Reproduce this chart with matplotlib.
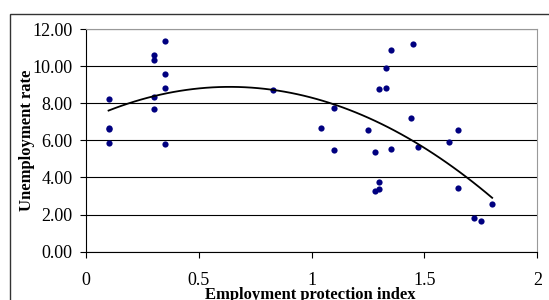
import numpy as np
import matplotlib
matplotlib.use("Agg")
import matplotlib.pyplot as plt
from matplotlib.patches import Rectangle

# --- Data ---
epi = [0.10, 0.10, 0.10, 0.10,
       0.30, 0.30, 0.30, 0.30,
       0.35, 0.35, 0.35, 0.35,
       0.83, 1.04, 1.10, 1.10,
       1.25, 1.28, 1.28, 1.30, 1.30, 1.30, 1.33, 1.33, 1.35, 1.35,
       1.44, 1.45, 1.47, 1.61, 1.65, 1.65, 1.72, 1.75, 1.80]
unemp = [8.25, 6.69, 6.63, 5.88,
         10.62, 10.35, 8.34, 7.68,
         11.36, 9.58, 8.82, 5.82,
         8.72, 6.69, 7.73, 5.48,
         6.58, 5.36, 3.29, 8.77, 3.76, 3.40, 9.92, 8.82, 10.89, 5.54,
         7.21, 11.18, 5.64, 5.90, 6.58, 3.42, 1.80, 1.64, 2.55]

x_ticks = [0, 0.5, 1, 1.5, 2]
x_ticklabels = ["0", "0.5", "1", "1.5", "2"]
y_ticks = [0, 2, 4, 6, 8, 10, 12]
y_ticklabels = ["0.00", "2.00", "4.00", "6.00", "8.00", "10.00", "12.00"]

# quadratic trend line (as drawn in the reference)
trend_coef = np.polyfit(epi, unemp, 2)
trend_x = np.linspace(min(epi), max(epi), 60)
trend_y = np.polyval(trend_coef, trend_x)

plt.rcParams["font.family"] = ["Liberation Serif", "DejaVu Serif"]

fig = plt.figure(figsize=(5.49, 3.0), dpi=100)
# outer chart frame (cropped at right/bottom)
fig.patches.append(Rectangle((10 / 549, -0.2), 1.2, 0.2 + (1 - 14 / 300),
                             transform=fig.transFigure, fill=False,
                             edgecolor="#333333", linewidth=1.0))

ax = fig.add_axes([86 / 549, 48.3 / 300, (537.3 - 86) / 549, (251.7 - 29) / 300])

ax.scatter(epi, unemp, s=20, color="#000080", zorder=3, linewidths=0)
ax.plot(trend_x, trend_y, color="black", linewidth=1.3, zorder=4)

ax.set_xlim(0, 2)
ax.set_ylim(0, 12)
ax.set_xticks(x_ticks)
ax.set_xticklabels(x_ticklabels)
ax.set_yticks(y_ticks)
ax.set_yticklabels(y_ticklabels)

ax.yaxis.grid(True, color="black", linewidth=0.8)
ax.set_axisbelow(True)

for side in ["top", "right"]:
    ax.spines[side].set_color("#999999")
for side in ["left", "bottom"]:
    ax.spines[side].set_color("black")
    ax.spines[side].set_linewidth(0.8)

ax.tick_params(axis="both", direction="out", length=4.3, width=0.8,
               labelsize=13)
ax.tick_params(axis="y", pad=5.5)
ax.tick_params(axis="x", pad=10.5)

ax.set_xlabel("Employment protection index", fontsize=12, fontweight="bold")
ax.xaxis.label.set_va("baseline")
ax.xaxis.set_label_coords(0.497, -0.211)
ax.set_ylabel("Unemployment rate", fontsize=12, fontweight="bold")
ax.yaxis.set_label_coords(-0.112, 0.5)

fig.savefig("out.png", dpi=100)
